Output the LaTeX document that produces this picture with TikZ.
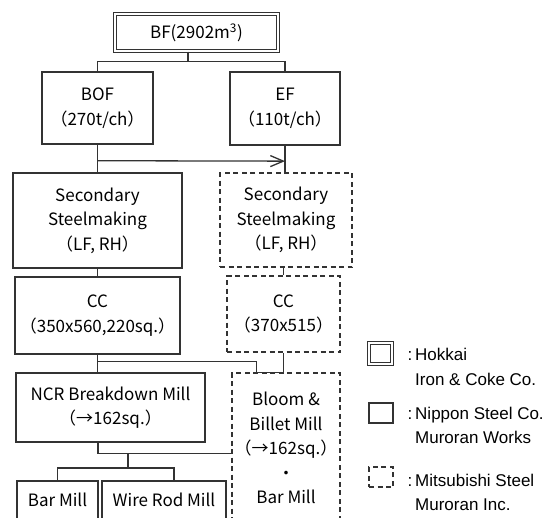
\documentclass[tikz,border=0pt]{standalone}
\usepackage{fontspec}
\setmainfont{Noto Sans CJK JP}
\newfontfamily\legendfont{Liberation Sans}
\usetikzlibrary{arrows.meta,calc}

\begin{document}
\begin{tikzpicture}[x=1pt, y=-1pt, line width=1.3pt, >={Straight Barb[length=13pt,width=11pt]},
    plant/.style={draw=black!80, inner sep=0pt, align=center, text=black, font=\fontsize{17}{24.5}\selectfont},
    hokkai/.style={plant, double, double distance=1.8pt},
    nippon/.style={plant},
    mitsubishi/.style={plant, dash pattern=on 5pt off 3.5pt},
    legend/.style={inner sep=0pt, align=left, text=black, font=\legendfont\fontsize{17}{24.5}\selectfont},
    link/.style={draw=black!80}]
    \useasboundingbox (0,0) rectangle (557,517);
    \clip (0,0) rectangle (557,517);

    % 高炉
    \node[hokkai, minimum width=163, minimum height=37] (bf) at (196.5,32.5) {BF(2902m\textsuperscript{3})};

    % 転炉・電気炉
    \node[nippon, minimum width=111, minimum height=72] (bof) at (97.5,108) {BOF\\（270t/ch）};
    \node[nippon, minimum width=110, minimum height=73] (ef) at (285,108.5) {EF\\（110t/ch）};

    % 二次精錬
    \node[nippon, minimum width=169, minimum height=95] (sec1) at (97.5,220.5) {Secondary\\Steelmaking\\（LF, RH）};
    \node[mitsubishi, minimum width=132, minimum height=94] (sec2) at (286,220) {Secondary\\Steelmaking\\（LF, RH）};

    % 連続鋳造
    \node[nippon, minimum width=165, minimum height=77] (cc1) at (97.5,315.5) {CC\\（350x560,220sq.）};
    \node[mitsubishi, minimum width=113, minimum height=76] (cc2) at (283.5,314) {CC\\（370x515）};

    % 分塊・圧延
    \node[nippon, minimum width=189, minimum height=69] (ncr) at (110.5,407.5) {NCR Breakdown Mill\\（→162sq.）};
    \node[mitsubishi, minimum width=108, minimum height=150] (bloom) at (286,448) {Bloom \&\\Billet Mill\\（→162sq.）\\・\\Bar Mill};
    \node[nippon, minimum width=81, minimum height=38] (bar) at (57.5,500) {Bar Mill};
    \node[nippon, minimum width=124, minimum height=38] (wire) at (164,500) {Wire Rod Mill};

    % 接続線
    \draw[link] ([xshift=-8.5pt]bf.south) -- ++(0,9.5) coordinate (bfsplit);
    \draw[link] (bof.north) |- (bfsplit) -| (ef.north);
    \draw[link] (bof.south) -- (sec1.north);
    \draw[link] (ef.south) -- (ef.south |- sec2.north);
    \draw[link, ->] ($(bof.south)!0.58!(sec1.north)$) -- ($(ef.south)!0.58!(ef.south |- sec2.north)$);
    \draw[link] (sec1.south) -- (cc1.north);
    \draw[link] (cc2.north |- sec2.south) -- (cc2.north);
    \draw[link] (cc1.south) -- (cc1.south |- ncr.north);
    \draw[link] ($(cc1.south)!0.4!(cc1.south |- ncr.north)$) coordinate (ccsplit)
        -| ([xshift=-27pt]cc2.south |- bloom.north) -- (cc2.south |- bloom.north) -- (cc2.south);
    \draw[link] ([xshift=-12.5pt]ncr.south) -- ++(0,11) coordinate (ncrsplit) -- (ncrsplit -| bloom.west);
    \coordinate (millsplit) at (128,468);
    \draw[link] (millsplit |- ncrsplit) -- (millsplit);
    \draw[link] (bar.north) |- (millsplit) -| ([xshift=10pt]wire.north);

    % 凡例
    \node[hokkai, minimum width=23, minimum height=21] (keyhokkai) at (380.5,353.5) {};
    \node[legend, anchor=west] (txthokkai) at (407,367) {:\,Hokkai\\\phantom{:\,}Iron \& Coke Co.};
    \node[nippon, minimum width=24, minimum height=20] (keynippon) at (381,413) {};
    \node[legend, anchor=west] (txtnippon) at (407,425.5) {:\,Nippon Steel Co.\\\phantom{:\,}Muroran Works};
    \node[mitsubishi, minimum width=24, minimum height=20] (keymitsubishi) at (381,477) {};
    \node[legend, anchor=west] (txtmitsubishi) at (407,492.5) {:\,Mitsubishi Steel\\\phantom{:\,}Muroran Inc.};
\end{tikzpicture}
\end{document}
